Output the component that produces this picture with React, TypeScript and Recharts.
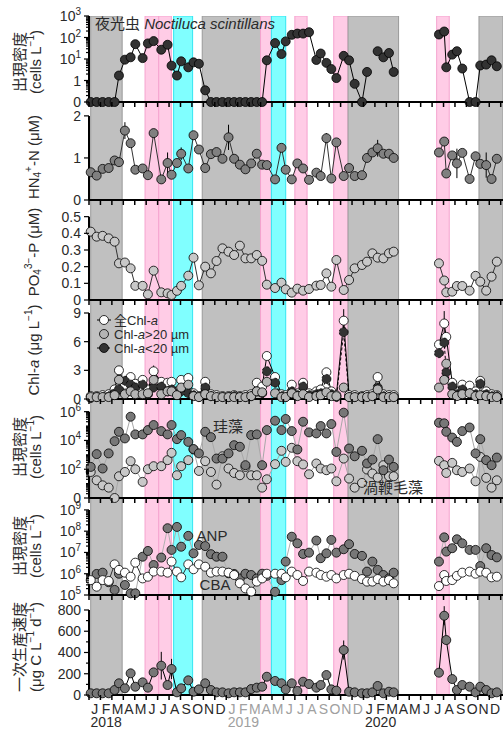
import React from 'react';
import { ComposedChart, Line, XAxis, YAxis, ReferenceArea, ReferenceLine, ErrorBar } from 'recharts';

const FONT = "'Liberation Sans', Arial, 'Noto Sans CJK JP', sans-serif";
const W = 504;
const PLOT_L = 89;
const X_MAX = 36.2;
const PXM = (W - 1 - PLOT_L) / X_MAX;
const PAD_T = 10;

// sampling dates, in months since 1 Jan 2018
const months = [
  0.15, 0.67, 1.19, 1.72, 2.24, 2.62, 3.14, 3.64, 4.05, 4.69, 5.15, 5.65, 6.32, 6.87, 7.22, 7.69, 8.06, 8.68,
  9.14, 9.61, 10.16, 10.66, 11.15, 11.67, 12.2, 12.69, 13.19, 13.68, 14.18, 14.67, 15.14, 15.55, 16.27, 16.83,
  17.2, 17.73, 18.22, 18.72, 19.24, 19.88, 20.26, 20.76, 21.19, 21.63, 22.27, 22.74, 23.23, 23.87, 24.31, 24.78,
  25.24, 25.74, 26.23, 26.64,
  30.6, 31.06, 31.24, 31.76, 32.17, 32.64, 33.28, 33.8, 34.21, 34.73, 35.2, 35.66,
];
const monthLetters = ['J', 'F', 'M', 'A', 'M', 'J', 'J', 'A', 'S', 'O', 'N', 'D'];

// Noctiluca (cells/L)
const noctiluca = [
  0, 0, 0, 0, 0, 1.7, 9.3, 12, 49, 11, 53, 68, 27, 46, 4.9, 1.7, 7.8, 4.1, 7, 6, 0.35,
  0, 0, 0, 0, 0, 0, 0, 0, 0, 0, 8.7, 55, 17, 66, 133, 152, 152, 176, 9, 18, 6.6, 3.4, 1.3, 14, 8.7, 0.7, 0, 2.5, null,
  23, 12, 19, 2.5,
  138, 190, 4.1, 16, 23, 3.6, 0, 0, 5, 5.5, 8.7, 4.6,
];
// NH4-N (uM)
const ammonium = [
  0.66, 0.58, 0.74, 0.76, 0.94, 0.9, 1.65, 1.35, 0.72, 0.75, 0.59, 1.59, 0.49, 0.88, 0.6, 0.88, 1.1, 0.75, 1.54, 1.2,
  0.76, 1.09, 1.14, 0.98, 1.49, 0.98, 0.84, 0.73, 0.87, 1.1, 0.84, 0.83, 0.49, 1.24, 0.72, 0.49, 0.87, 0.75, 0.48, 0.65,
  0.57, 1.47, 0.51, 1.37, 0.57, 0.76, 0.57, 0.59, 1.0, 1.13, 1.23, 1.1, 1.1, 1.0,
  1.13, 1.39, 0.63, 1.06, 0.87, 1.12, 0.5, 1.04, 0.86, 0.83, 0.5, 0.98,
];
const ammoniumErr: Record<number, number> = { 6: 0.2, 11: 0.05, 13: 0.25, 16: 0.15, 18: 0.1, 24: 0.3, 33: 0.08, 41: 0.12, 50: 0.2, 58: 0.35, 63: 0.3 };
// PO4-P (uM)
const phosphate = [
  0.41, 0.38, 0.385, 0.37, 0.35, 0.22, 0.225, 0.19, 0.085, 0.085, 0.034, 0.176, 0.046, 0.04, 0.03, 0.055, 0.085, 0.146,
  0.254, 0.088, 0.2, 0.16, 0.234, 0.31, 0.29, 0.27, 0.326, 0.25, 0.25, 0.27, 0.235, 0.092, 0.072, 0.104, 0.064, 0.044,
  0.068, 0.056, 0.066, 0.086, 0.09, 0.16, 0.08, 0.24, 0.06, 0.12, 0.19, 0.21, 0.23, 0.28, 0.254, 0.25, 0.28, 0.29,
  0.22, 0.117, 0.046, 0.05, 0.084, 0.084, 0.056, 0.145, 0.11, 0.056, 0.14, 0.23,
];
// Chl-a (ug/L)
const chlTotal = [
  0.3, 0.3, 0.4, 0.5, 1.0, 3.0, 1.5, 2.3, 1.6, 2.0, 1.0, 2.9, 1.8, 1.7, 1.8, 0.8, 2.0, 2.2, 0.6, 0.3, 1.8, 0.5, 0.4, 0.3,
  0.3, 0.4, 0.3, 0.4, 0.5, 1.7, 1.3, 4.5, 2.3, 0.5, 0.4, 1.5, 0.6, 1.7, 0.6, 0.8, 1.0, 2.8, 0.8, 0.4, 8.2, 0.4, 0.4, 0.3,
  0.4, 0.5, 2.3, 0.5, 0.4, 0.4,
  5.7, 7.9, 6.5, 1.7, 0.8, 1.5, 1.4, 0.8, 1.9, 0.8, 0.5, 0.4,
];
const chlTotalErr: Record<number, number> = { 11: 0.6, 44: 1.2, 55: 1.3 };
const chlLarge = [
  0.2, 0.2, 0.2, 0.2, 0.4, 2.0, 0.5, 0.8, 0.5, 0.5, 0.6, 2.0, 0.5, 0.8, 0.8, 0.4, 1.2, 1.5, 0.3, 0.2, 0.5, 0.3, 0.2, 0.2,
  0.2, 0.2, 0.2, 0.2, 0.3, 0.8, 0.7, 1.8, 0.6, 0.2, 0.2, 0.6, 0.3, 0.5, 0.2, 0.3, 0.4, 0.7, 0.3, 0.3, 1.2, 0.2, 0.2, 0.2,
  0.2, 0.3, 1.0, 0.2, 0.2, 0.2,
  1.2, 2.0, 3.7, 0.5, 0.3, 0.5, 0.6, 0.3, 0.4, 0.3, 0.2, 0.2,
];
const chlSmall = [
  0.1, 0.2, 0.2, 0.3, 0.6, 1.0, 1.9, 1.5, 1.2, 1.5, 0.5, 1.2, 1.3, 0.8, 1.0, 0.5, 0.8, 0.6, 0.4, 0.2, 1.2, 0.3, 0.2, 0.2,
  0.2, 0.3, 0.2, 0.2, 0.3, 0.8, 0.6, 2.9, 1.7, 0.3, 0.2, 0.8, 0.4, 1.3, 0.4, 0.5, 0.6, 2.1, 0.5, 0.2, 7.0, 0.2, 0.2, 0.2,
  0.2, 0.3, 1.2, 0.3, 0.2, 0.2,
  4.8, 5.9, 2.8, 1.3, 0.5, 1.0, 0.6, 0.5, 1.6, 0.5, 0.3, 0.3,
];
// log10 cells/L (0 = absent)
const diatomLog = [
  2.16, 3.05, 2.05, 3.1, 3.95, 4.6, 4.14, 5.65, 4.42, 4.42, 4.72, 5.07, 4.65, 4.42, 5.07, 4.09, 4.37, 3.9, 3.4, 3.1,
  4.6, 4.23, 2.74, 2.74, 3.1, 3.67, 3.56, 2.28, 4.37, 4.42, 2.28, 4.72, 5.37, 4.72, 5.49, 4.65, 3.37, 5.3, 4.56, 4.49,
  5.0, 4.49, 5.14, 3.2, 5.93, 3.44, 2.9, 3.28, 2.4, 2.67, 4.09, 1.93, 2.67, 2.16,
  5.23, 5.19, 4.6, 4.2, 3.9, 4.65, 4.9, 3.1, 4.09, 2.63, 2.28, 2.81,
];
const dinoLog = [
  1.81, 1.23, 0.88, 0.72, 0, 1.51, 1.81, 2.56, 2.0, 1.12, 2.0, 2.21, 2.21, 2.63, 3.14, 1.58, 2.21, 2.63, 3.37, 1.88,
  2.56, 1.81, 0.93, 2.9, 2.05, 1.74, 1.58, 2.16, 1.58, 1.58, 0.72, 1.3, 2.35, 3.28, 2.51, 3.49, 2.56, 2.33, 1.65, 2.4,
  2.05, 1.93, 2.05, 1.16, 2.74, 1.35, 0.72, 1.05, 1.98, 1.7, 1.42, 2.28, 1.51, 1.51,
  2.58, 2.28, 1.74, 2.44, 1.93, 1.81, 2.05, 1.16, 2.86, 1.4, 0.72, 1.23,
];
const anpLog = [
  null, 5.99, 6.05, 5.6, 5.24, 6.0, 5.47, 5.08, 5.08, 6.8, 7.07, 6.41, 6.76, 8.14, 7.12, 8.2, 7.27, 7.78, 6.96, 7.35,
  7.3, 6.92, 6.8, 6.8, 6.02, 5.99, 5.78, 6.0, 5.94, 5.78, 6.0, 5.9, 5.15, 5.7, 6.57, 7.74, 7.43, 6.93, 6.99, 7.56,
  6.73, 6.96, 7.59, 6.99, 7.15, 7.39, 6.93, 6.84, 6.1, 6.57, 6.18, 5.94, 5.78, 6.05,
  6.57, 7.71, 7.04, 7.2, 7.62, 7.43, 7.12, 7.12, 6.36, 7.2, 6.88, 6.77,
];
const cbaLog = [
  5.7, 5.39, 5.7, 5.66, 6.44, 6.18, 6.05, 5.86, 6.52, 5.78, 5.86, 6.1, 6.1, 6.05, 6.57, 6.1, 5.83, 6.44, 6.21, 6.44,
  6.33, 6.05, 6.1, 6.1, 6.05, 5.94, 5.55, 5.31, 5.16, 5.63, 5.78, 6.0, 6.0, 6.0, 5.83, 6.1, 5.94, 5.66, 6.1, 6.05,
  5.94, 5.86, 5.94, 5.78, 5.94, 6.0, 5.9, 5.75, 5.63, 5.63, 5.75, 5.63, 5.7, 5.55,
  5.42, 5.94, 5.66, 5.7, 5.9, 6.05, 6.1, 6.0, 6.1, 6.05, 5.83, 5.86,
];
// primary production (ug C/L/d)
const production = [
  16, 16, 16, 16, 47, 110, 63, 204, 78, 119, 69, 213, 276, 94, 245, 25, 63, 138, 31, 53, 110, 47, 25, 25, 16, 25, 25,
  25, 56, 69, 78, 172, 132, 110, 53, 110, 38, 125, 103, 69, 94, 188, 53, 41, 423, 31, 25, 16, 16, 25, 85, 16, 31, 25,
  210, 746, 517, 150, 47, 94, 78, 25, 78, 47, 16, 25,
];
const productionErr: Record<number, number> = { 12: 130, 14: 95, 44: 90, 55: 90 };

// no sampling Apr-Jun 2020: lines break here
const GAP_AFTER = 53;
const GAP_MONTH = 28.6;

const shades = [
  { x1: 0.15, x2: 2.9, kind: 'gray' },
  { x1: 4.9, x2: 6.1, kind: 'pink' },
  { x1: 6.1, x2: 7.2, kind: 'pink' },
  { x1: 7.4, x2: 9.06, kind: 'cyan' },
  { x1: 9.9, x2: 15.0, kind: 'gray' },
  { x1: 15.0, x2: 15.95, kind: 'pink' },
  { x1: 15.95, x2: 17.2, kind: 'cyan' },
  { x1: 18.0, x2: 19.07, kind: 'pink' },
  { x1: 21.4, x2: 22.65, kind: 'pink' },
  { x1: 22.65, x2: 27.07, kind: 'gray' },
  { x1: 30.4, x2: 31.5, kind: 'pink' },
  { x1: 34.1, x2: 36.2, kind: 'gray' },
];
const shadeStyle: Record<string, { fill: string; stroke: string }> = {
  gray: { fill: '#c0c0c0', stroke: '#9a9a9a' },
  pink: { fill: '#ffcce6', stroke: '#f5a3cf' },
  cyan: { fill: '#80ffff', stroke: '#33e6f2' },
};

const logOrFloor = (v: number | null, floor: number) => (v == null ? null : v <= 0 ? floor : Math.log10(v));

const sampled = months.map((m, i) => ({
  m,
  noct: logOrFloor(noctiluca[i], -1),
  nh4: ammonium[i],
  nh4e: ammoniumErr[i] ?? 0,
  po4: phosphate[i],
  chlT: chlTotal[i],
  chlTe: chlTotalErr[i] ?? 0,
  chlL: chlLarge[i],
  chlS: chlSmall[i],
  dia: diatomLog[i],
  dino: dinoLog[i],
  anp: anpLog[i],
  cba: cbaLog[i],
  pp: production[i],
  ppe: productionErr[i] ?? 0,
}));
const rows: any[] = [...sampled.slice(0, GAP_AFTER + 1), { m: GAP_MONTH }, ...sampled.slice(GAP_AFTER + 1)];

const monthTicks = Array.from({ length: 37 }, (_, i) => i);

const pow = (n: number) => (
  <>
    10<tspan dy={-6} fontSize={10}>{n}</tspan>
  </>
);

const minorLog = (from: number, to: number) => {
  const out: number[] = [];
  for (let d = from; d < to; d++) for (let k = 2; k <= 9; k++) out.push(d + Math.log10(k));
  return out;
};

function makeYTick(label: (v: number) => React.ReactNode | null) {
  return (p: any) => {
    const { x, y, payload } = p;
    const lab = label(payload.value);
    const len = lab == null ? 3 : 5;
    return (
      <g>
        <line x1={x - len} x2={x} y1={y} y2={y} stroke="#000" strokeWidth={1.2} />
        {lab != null && (
          <text x={x - 8} y={y + 5} textAnchor="end" fontSize={14} fill="#2a2a2a" fontFamily={FONT}>
            {lab}
          </text>
        )}
      </g>
    );
  };
}

const bareXTick = (p: any) => <line x1={p.x} x2={p.x} y1={p.y} y2={p.y + 5} stroke="#000" strokeWidth={1.5} />;

const monthXTick = (p: any) => {
  const { x, y, payload } = p;
  const i = payload.value as number;
  const year = 2018 + Math.floor(i / 12);
  const color = year === 2019 ? '#a0a0a0' : '#2a2a2a';
  return (
    <g>
      <line x1={x} x2={x} y1={y} y2={y + 5} stroke="#000" strokeWidth={1.5} />
      {i < 36 && (
        <text x={x + PXM / 2} y={y + 19} textAnchor="middle" fontSize={14} fill={color} fontFamily={FONT}>
          {monthLetters[i % 12]}
        </text>
      )}
      {i < 36 && i % 12 === 1 && (
        <text x={x + PXM / 2} y={y + 32} textAnchor="middle" fontSize={14} fill={color} fontFamily={FONT}>
          {year}
        </text>
      )}
    </g>
  );
};

type PanelProps = {
  top: number;
  plotH: number;
  bottom?: boolean;
  domain: [number, number];
  axisTop: number;
  ticks: number[];
  label: (v: number) => React.ReactNode | null;
  z: number;
  children: React.ReactNode;
};

function Panel({ top, plotH, bottom, domain, axisTop, ticks, label, z, children }: PanelProps) {
  const xh = bottom ? 35 : 14;
  return (
    <div style={{ position: 'absolute', left: 0, top: top - PAD_T, zIndex: z }}>
      <ComposedChart width={W} height={plotH + xh + PAD_T} data={rows} margin={{ top: PAD_T, right: 1, bottom: 0, left: 0 }}>
        <XAxis
          type="number"
          dataKey="m"
          domain={[0, X_MAX]}
          ticks={monthTicks}
          interval={0}
          height={xh}
          tickSize={0}
          tickMargin={0}
          tickLine={false}
          axisLine={{ stroke: '#000', strokeWidth: 2 }}
          tick={bottom ? monthXTick : bareXTick}
        />
        <YAxis
          type="number"
          domain={domain}
          ticks={ticks}
          interval={0}
          width={PLOT_L}
          tickSize={0}
          tickMargin={0}
          tickLine={false}
          axisLine={false}
          tick={makeYTick(label)}
        />
        {shades.map((s, i) => (
          <ReferenceArea
            key={i}
            x1={s.x1}
            x2={s.x2}
            fill={shadeStyle[s.kind].fill}
            fillOpacity={1}
            stroke={shadeStyle[s.kind].stroke}
            strokeWidth={1}
            ifOverflow="hidden"
          />
        ))}
        <ReferenceLine
          segment={[{ x: 0, y: domain[0] }, { x: 0, y: axisTop }]}
          stroke="#000"
          strokeWidth={2}
          ifOverflow="visible"
        />
        {children}
      </ComposedChart>
    </div>
  );
}

const dot = (fill: string) => ({ r: 4.5, fill, stroke: '#000', strokeWidth: 0.8 });

const rot = (x: number, y: number, content: React.ReactNode, size = 15) => (
  <text
    x={x}
    y={y}
    transform={`rotate(-90 ${x} ${y})`}
    textAnchor="middle"
    dominantBaseline="central"
    fontSize={size}
    fill="#2a2a2a"
    fontFamily={FONT}
  >
    {content}
  </text>
);

export default function App() {
  const sub = (t: string) => <tspan dy={4} fontSize={10}>{t}</tspan>;
  const invL = (
    <>
      (cells L<tspan dy={-5} fontSize={10}>−1</tspan>
      <tspan dy={5}>)</tspan>
    </>
  );
  return (
    <div style={{ position: 'absolute', left: 0, top: 0, width: W, height: 730, background: '#fff', overflow: 'hidden' }}>
      <Panel top={16} plotH={86} domain={[-1, 3]} axisTop={3} z={17}
        ticks={[-1, 0, 1, 2, 3, ...minorLog(-1, 3)]}
        label={(v) => (v === -1 ? '0' : v === 0 ? '1' : Number.isInteger(v) ? pow(v) : null)}>
        <Line dataKey="noct" stroke="#000" strokeWidth={1} dot={dot('#333')} activeDot={false} isAnimationActive={false} />
      </Panel>
      <Panel top={102} plotH={98} domain={[0, 2.33]} axisTop={2} z={16} ticks={[0, 1, 2]} label={(v) => String(v)}>
        <Line dataKey="nh4" stroke="#333" strokeWidth={1} dot={dot('#808080')} activeDot={false} isAnimationActive={false}>
          <ErrorBar dataKey="nh4e" width={0} stroke="#000" strokeWidth={1} />
        </Line>
      </Panel>
      <Panel top={200} plotH={100} domain={[0, 0.6]} axisTop={0.5} z={15}
        ticks={[0, 0.1, 0.2, 0.3, 0.4, 0.5]} label={(v) => (v === 0 ? '0' : v.toFixed(1))}>
        <Line dataKey="po4" stroke="#333" strokeWidth={1} dot={dot('#c8c8c8')} activeDot={false} isAnimationActive={false} />
      </Panel>
      <Panel top={300} plotH={99} domain={[0, 10.36]} axisTop={9} z={14} ticks={[0, 3, 6, 9]} label={(v) => String(v)}>
        <Line dataKey="chlT" stroke="#000" strokeWidth={1} dot={dot('#fff')} activeDot={false} isAnimationActive={false}>
          <ErrorBar dataKey="chlTe" width={0} stroke="#000" strokeWidth={1} />
        </Line>
        <Line dataKey="chlS" stroke="#000" strokeWidth={1} strokeDasharray="3 2" dot={dot('#333')} activeDot={false} isAnimationActive={false} />
        <Line dataKey="chlL" stroke="none" dot={dot('#b4b4b4')} activeDot={false} isAnimationActive={false} />
      </Panel>
      <Panel top={399} plotH={99} domain={[0, 6.88]} axisTop={6} z={13}
        ticks={[0, 1, 2, 3, 4, 5, 6, ...minorLog(0, 6)]}
        label={(v) => (v === 0 ? '0' : Number.isInteger(v) && v % 2 === 0 ? pow(v) : null)}>
        <Line dataKey="dino" stroke="#a8a8a8" strokeWidth={1} dot={dot('#c8c8c8')} activeDot={false} isAnimationActive={false} />
        <Line dataKey="dia" stroke="#a8a8a8" strokeWidth={1} dot={dot('#777')} activeDot={false} isAnimationActive={false} />
      </Panel>
      <Panel top={498} plotH={97} domain={[5, 9.56]} axisTop={9} z={12}
        ticks={[5, 6, 7, 8, 9, ...minorLog(5, 9)]}
        label={(v) => (Number.isInteger(v) ? pow(v) : null)}>
        <Line dataKey="anp" stroke="#b0b0b0" strokeWidth={1} dot={dot('#777')} activeDot={false} isAnimationActive={false} />
        <Line dataKey="cba" stroke="#333" strokeWidth={1} dot={dot('#fff')} activeDot={false} isAnimationActive={false} />
      </Panel>
      <Panel top={595} plotH={100} bottom domain={[0, 941]} axisTop={800} z={11}
        ticks={[0, 100, 200, 300, 400, 500, 600, 700, 800]}
        label={(v) => (v % 200 === 0 ? String(v) : null)}>
        <Line dataKey="pp" stroke="#000" strokeWidth={1} dot={dot('#777')} activeDot={false} isAnimationActive={false}>
          <ErrorBar dataKey="ppe" width={0} stroke="#000" strokeWidth={1} />
        </Line>
      </Panel>

      <svg width={W} height={730} style={{ position: 'absolute', left: 0, top: 0, zIndex: 30, pointerEvents: 'none' }}>
        {rot(19, 62, '出現密度')}
        {rot(35, 62, invL)}
        {rot(33, 157, <>HN{sub('4')}<tspan dy={-9} fontSize={10}>+</tspan><tspan dy={5}>-N (μM)</tspan></>)}
        {rot(33, 252, <>PO{sub('4')}<tspan dy={-9} fontSize={10}>3−</tspan><tspan dy={5}>-P (μM)</tspan></>)}
        {rot(33, 350, <>Chl-<tspan fontStyle="italic">a</tspan> (μg L<tspan dy={-5} fontSize={10}>−1</tspan><tspan dy={5}>)</tspan></>)}
        {rot(19, 447, '出現密度')}
        {rot(35, 447, invL)}
        {rot(19, 546, '出現密度')}
        {rot(35, 546, invL)}
        {rot(19, 647, '一次生産速度')}
        {rot(35, 647, <>(μg C L<tspan dy={-5} fontSize={10}>−1</tspan><tspan dy={5}> d</tspan><tspan dy={-5} fontSize={10}>−1</tspan><tspan dy={5}>)</tspan></>)}

        <text x={95} y={29} fontSize={15} fill="#2a2a2a" fontFamily={FONT}>
          夜光虫 <tspan fontStyle="italic">Noctiluca scintillans</tspan>
        </text>

        <g fontFamily={FONT} fontSize={13} fill="#2a2a2a">
          <line x1={97} x2={111} y1={320} y2={320} stroke="#000" strokeWidth={1} />
          <circle cx={104} cy={320} r={4.5} fill="#fff" stroke="#000" strokeWidth={0.8} />
          <text x={114} y={325}>全Chl-<tspan fontStyle="italic">a</tspan></text>
          <circle cx={104} cy={334} r={4.5} fill="#b4b4b4" stroke="#000" strokeWidth={0.8} />
          <text x={114} y={339}>Chl-<tspan fontStyle="italic">a</tspan>&gt;20 µm</text>
          <line x1={97} x2={111} y1={348} y2={348} stroke="#000" strokeWidth={1} strokeDasharray="3 2" />
          <circle cx={104} cy={348} r={4.5} fill="#333" stroke="#000" strokeWidth={0.8} />
          <text x={114} y={353}>Chl-<tspan fontStyle="italic">a</tspan>&lt;20 µm</text>
        </g>

        <g fontFamily={FONT} fontSize={15} fill="#2a2a2a" textAnchor="middle">
          <text x={228} y={432}>珪藻</text>
          <text x={393} y={493}>渦鞭毛藻</text>
          <text x={212} y={541}>ANP</text>
          <text x={215} y={590}>CBA</text>
        </g>
      </svg>
    </div>
  );
}
